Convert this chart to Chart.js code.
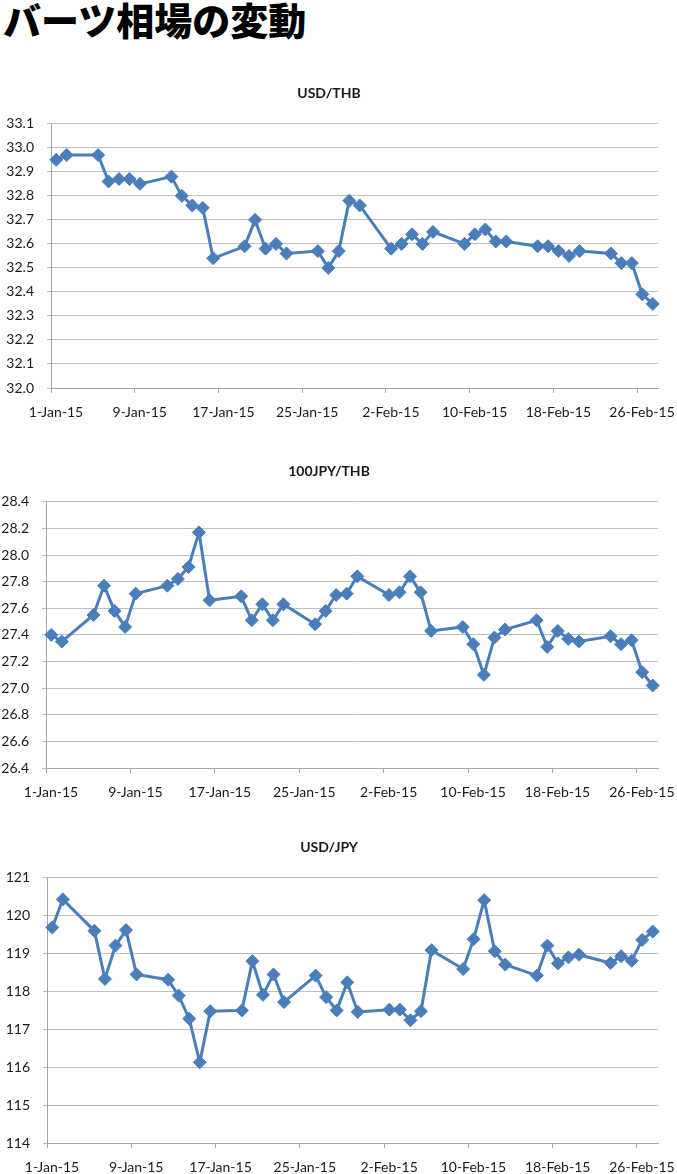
<!DOCTYPE html>
<html lang="ja">
<head>
<meta charset="utf-8">
<title>バーツ相場の変動</title>
<script src="https://cdn.jsdelivr.net/npm/chart.js@4.4.1/dist/chart.umd.min.js"></script>
<style>
  html, body {
    margin: 0;
    padding: 0;
    background: #ffffff;
    overflow: hidden;
  }
  .page-title {
    position: absolute;
    left: 3px;
    top: -1px;
    margin: 0;
    font-family: "Noto Sans CJK JP", sans-serif;
    font-weight: 900;
    font-size: 38px;
    line-height: 40px;
    color: #000;
  }
  .chart-box {
    position: absolute;
    left: 0;
    width: 677px;
  }
</style>
</head>
<body>
<h1 class="page-title">バーツ相場の変動</h1>

<div class="chart-box" style="top:75px;height:345px;"><canvas id="usd-thb-chart"></canvas></div>
<div class="chart-box" style="top:453px;height:347px;"><canvas id="jpy-thb-chart"></canvas></div>
<div class="chart-box" style="top:829px;height:346px;"><canvas id="usd-jpy-chart"></canvas></div>

<script>
/**
 * Trading days (weekdays, 1 Jan - 27 Feb 2015)
 */
const dates = [
  '2015-01-01', '2015-01-02',
  '2015-01-05', '2015-01-06', '2015-01-07', '2015-01-08', '2015-01-09',
  '2015-01-12', '2015-01-13', '2015-01-14', '2015-01-15', '2015-01-16',
  '2015-01-19', '2015-01-20', '2015-01-21', '2015-01-22', '2015-01-23',
  '2015-01-26', '2015-01-27', '2015-01-28', '2015-01-29', '2015-01-30',
  '2015-02-02', '2015-02-03', '2015-02-04', '2015-02-05', '2015-02-06',
  '2015-02-09', '2015-02-10', '2015-02-11', '2015-02-12', '2015-02-13',
  '2015-02-16', '2015-02-17', '2015-02-18', '2015-02-19', '2015-02-20',
  '2015-02-23', '2015-02-24', '2015-02-25', '2015-02-26', '2015-02-27'
];

// date axis: ticks every 8 days, axis runs to 28 Feb
const tickDates = [
  '2015-01-01', '2015-01-09', '2015-01-17', '2015-01-25',
  '2015-02-02', '2015-02-10', '2015-02-18', '2015-02-26'
];
const tickLabels = [
  '1-Jan-15', '9-Jan-15', '17-Jan-15', '25-Jan-15',
  '2-Feb-15', '10-Feb-15', '18-Feb-15', '26-Feb-15'
];
const axisStart = '2015-01-01';
const axisEnd = '2015-02-28';

const usdThb = [
  32.95, 32.97,
  32.97, 32.86, 32.87, 32.87, 32.85,
  32.88, 32.80, 32.76, 32.75, 32.54,
  32.59, 32.70, 32.58, 32.60, 32.56,
  32.57, 32.50, 32.57, 32.78, 32.76,
  32.58, 32.60, 32.64, 32.60, 32.65,
  32.60, 32.64, 32.66, 32.61, 32.61,
  32.59, 32.59, 32.57, 32.55, 32.57,
  32.56, 32.52, 32.52, 32.39, 32.35
];

const jpy100Thb = [
  27.40, 27.35,
  27.55, 27.77, 27.58, 27.46, 27.71,
  27.77, 27.82, 27.91, 28.17, 27.66,
  27.69, 27.51, 27.63, 27.51, 27.63,
  27.48, 27.58, 27.70, 27.71, 27.84,
  27.70, 27.72, 27.84, 27.72, 27.43,
  27.46, 27.33, 27.10, 27.38, 27.44,
  27.51, 27.31, 27.43, 27.37, 27.35,
  27.39, 27.33, 27.36, 27.12, 27.02
];

const usdJpy = [
  119.69, 120.43,
  119.60, 118.33, 119.21, 119.62, 118.45,
  118.31, 117.89, 117.28, 116.13, 117.48,
  117.50, 118.80, 117.91, 118.45, 117.72,
  118.42, 117.85, 117.50, 118.24, 117.46,
  117.52, 117.52, 117.24, 117.48, 119.09,
  118.59, 119.38, 120.41, 119.06, 118.71,
  118.42, 119.21, 118.74, 118.90, 118.97,
  118.75, 118.93, 118.81, 119.36, 119.58
];

/**
 * Chart instances cache
 */
const charts = {};

const LINE_BLUE = '#4a7ebb';
const GRID_GRAY = '#bfbfbf';
const AXIS_GRAY = '#a6a6a6';
const TEXT_COLOR = '#1a1a1a';

/**
 * Days since the start of the axis
 * @param {string} iso - ISO date
 */
function dayOffset(iso) {
  return (Date.parse(iso) - Date.parse(axisStart)) / 864e5;
}

Chart.defaults.font.family = 'Lato, "Open Sans", sans-serif';
Chart.defaults.font.size = 14;
Chart.defaults.color = TEXT_COLOR;

/**
 * Create one rate chart
 * @param {string} canvasId - Canvas element id
 * @param {string} title - Chart title
 * @param {Array} values - Daily rates
 * @param {Object} yAxis - min / max / step / decimals / width
 */
function createRateChart(canvasId, title, values, yAxis) {
  const ctx = document.getElementById(canvasId)?.getContext('2d');
  if (!ctx) {
    console.error('Canvas not found: ' + canvasId);
    return null;
  }

  // Excel date axis puts each point in the middle of its day
  const points = values.map((v, i) => ({ x: dayOffset(dates[i]) + 0.5, y: v }));
  const tickValues = tickDates.map(dayOffset);

  charts[canvasId] = new Chart(ctx, {
    type: 'line',
    data: {
      datasets: [{
        label: title,
        data: points,
        borderColor: LINE_BLUE,
        backgroundColor: LINE_BLUE,
        borderWidth: 3,
        tension: 0,
        pointStyle: 'rectRot',
        pointRadius: 6.5,
        pointBorderWidth: 1,
        pointBackgroundColor: LINE_BLUE,
        pointBorderColor: LINE_BLUE,
        clip: false
      }]
    },
    options: {
      responsive: true,
      maintainAspectRatio: false,
      animation: false,
      layout: {
        padding: { left: 0, right: 19, top: 0, bottom: 0 }
      },
      scales: {
        x: {
          type: 'linear',
          min: 0,
          max: dayOffset(axisEnd),
          afterBuildTicks: scale => {
            scale.ticks = tickValues.map(v => ({ value: v }));
          },
          afterFit: scale => {
            // labels may overhang; keep the plot edge fixed
            scale.height = 32;
            scale.paddingLeft = 0;
            scale.paddingRight = 0;
          },
          grid: {
            drawOnChartArea: false,
            drawTicks: true,
            tickLength: 5,
            color: AXIS_GRAY
          },
          border: { display: true, color: AXIS_GRAY, width: 1 },
          ticks: {
            padding: 11,
            labelOffset: 5,
            maxRotation: 0,
            autoSkip: false,
            color: TEXT_COLOR,
            callback: value => tickLabels[tickValues.indexOf(value)] ?? ''
          }
        },
        y: {
          min: yAxis.min,
          max: yAxis.max,
          afterFit: scale => { scale.width = yAxis.width; },
          grid: {
            color: GRID_GRAY,
            lineWidth: 1,
            drawTicks: true,
            tickLength: 4
          },
          border: { display: true, color: AXIS_GRAY, width: 1 },
          ticks: {
            stepSize: yAxis.step,
            padding: 13,
            color: TEXT_COLOR,
            callback: value => Number(value).toFixed(yAxis.decimals)
          }
        }
      },
      plugins: {
        legend: { display: false },
        tooltip: { enabled: false },
        title: {
          display: true,
          text: title,
          color: TEXT_COLOR,
          font: { size: 14, weight: 'bold' },
          padding: { top: 10, bottom: 22 }
        }
      }
    }
  });

  return charts[canvasId];
}

createRateChart('usd-thb-chart', 'USD/THB', usdThb,
  { min: 32.0, max: 33.1, step: 0.1, decimals: 1, width: 51 });
createRateChart('jpy-thb-chart', '100JPY/THB', jpy100Thb,
  { min: 26.4, max: 28.4, step: 0.2, decimals: 1, width: 46 });
createRateChart('usd-jpy-chart', 'USD/JPY', usdJpy,
  { min: 114, max: 121, step: 1, decimals: 0, width: 47 });
</script>
</body>
</html>
